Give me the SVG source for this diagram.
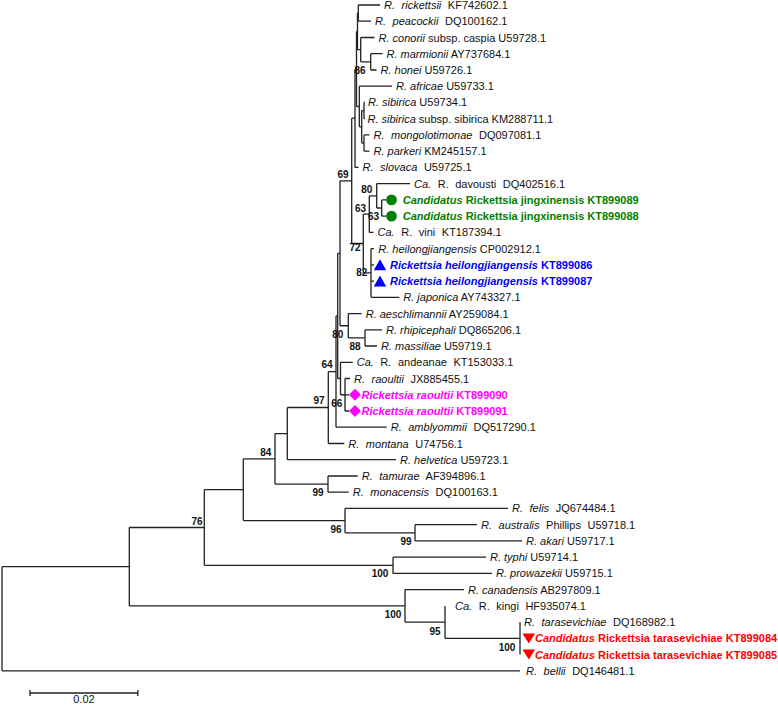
<svg xmlns="http://www.w3.org/2000/svg" width="778" height="705" viewBox="0 0 778 705">
<style>
.br{stroke:#222;stroke-width:1.3;fill:none}
.t{font-family:"Liberation Sans",Arial,sans-serif;font-size:11px;fill:#111}
.w{word-spacing:3.5px}
.i{font-style:italic}
.bd{font-weight:bold}
.bs{font-family:"Liberation Sans",Arial,sans-serif;font-size:10px;font-weight:bold;fill:#111;text-anchor:middle}
.g{fill:#008000}
.bl{fill:#0000ff}
.m{fill:#ff00ff}
.r{fill:#ff0000}
</style>
<rect width="778" height="705" fill="#fff"/>
<g id="connectors" class="br">
<path d="M2 566.7V670.8M2 566.7H129.3M2 670.8H520"/>
<path d="M129.3 527.5V605.9M129.3 527.5H204.3M129.3 605.9H405"/>
<path d="M405 589.6V622.15M405 589.6H464M405 622.15H445"/>
<path d="M445 605.9V638.4M445 638.4H520"/>
<path d="M520 622.1V654.6"/>
<path d="M204.3 489.7V565.3M204.3 489.7H243.3M204.3 565.3H393"/>
<path d="M393 557.2V573.4M393 557.2H486M393 573.4H492"/>
<path d="M243.3 458.85V520.6M243.3 458.85H275M243.3 520.6H345"/>
<path d="M345 508.4V532.8M345 508.4H508M345 532.8H415"/>
<path d="M415 524.7V540.9M415 524.7H477M415 540.9H522"/>
<path d="M275 433.6V484.1M275 433.6H287.3M275 484.1H328"/>
<path d="M328 476V492.2M328 476H357.7M328 492.2H348.7"/>
<path d="M287.3 407.5V459.7M287.3 407.5H328.3M287.3 459.7H396"/>
<path d="M328.3 371.55V443.5M328.3 371.55H336M328.3 443.5H344.3"/>
<path d="M336 315.9V427.2M336 315.9H337.7M336 427.2H386.7"/>
<path d="M337.7 253.3V378.5M337.7 253.3H340M337.7 378.5H340.5"/>
<path d="M340.5 362.3V394.75M340.5 362.3H352.7M340.5 394.75H345"/>
<path d="M345 378.5V411M345 378.5H350M345 394.8H349M345 411H349"/>
<path d="M340 180.85V325.75M340 180.85H351.7M340 325.75H348.3"/>
<path d="M348.3 313.6V337.9M348.3 313.6H361.7M348.3 337.9H365"/>
<path d="M365 329.8V346M365 329.8H382M365 346H377"/>
<path d="M351.7 118.2V243.5M351.7 118.2H355M351.7 243.5H363.3"/>
<path d="M363.3 214.1V272.95M363.3 214.1H369.3M363.3 272.95H371"/>
<path d="M371 248.6V297.3M371 248.6H374M371 264.8H374M371 281.1H374M371 297.3H399.3"/>
<path d="M369.3 195.8V232.4M369.3 195.8H376.7M369.3 232.4H373.5"/>
<path d="M376.7 183.6V208M376.7 183.6H410M376.7 208H381.7"/>
<path d="M381.7 199.9V216.1M381.7 199.9H386M381.7 216.1H386"/>
<path d="M355 68.95V167.4M355 68.95H356.5M355 167.4H358.5"/>
<path d="M356.5 31.4V106.5M356.5 31.4H357.5M356.5 106.5H359.3"/>
<path d="M357.5 13.1V49.7M357.5 13.1H358.3M357.5 49.7H360.7"/>
<path d="M358.3 5V21.2M358.3 5H380M358.3 21.2H371"/>
<path d="M360.7 37.5V61.85M360.7 37.5H374.5M360.7 61.85H370.7"/>
<path d="M370.7 53.7V70M370.7 53.7H382.5M370.7 70H376.5"/>
<path d="M359.3 86.2V126.8M359.3 86.2H392M359.3 126.8H361.7"/>
<path d="M361.7 110.55V143.05M361.7 110.55H364M361.7 143.05H364"/>
<path d="M364 102.4V118.7M364 102.4H365M364 118.7H365"/>
<path d="M364 134.9V151.2M364 134.9H369.5M364 151.2H369.5"/>
<path d="M30 693H137.8M30 690V696M137.8 690V696"/>
</g>
<g id="bootstrap">
<text class="bs" x="360" y="73.6">86</text>
<text class="bs" x="343" y="177.6">69</text>
<text class="bs" x="366.7" y="193.1">80</text>
<text class="bs" x="360.5" y="211.6">63</text>
<text class="bs" x="373.5" y="220.3">63</text>
<text class="bs" x="355" y="251.1">72</text>
<text class="bs" x="361.7" y="275.6">82</text>
<text class="bs" x="337.7" y="337.9">80</text>
<text class="bs" x="355" y="350.3">88</text>
<text class="bs" x="327" y="368.3">64</text>
<text class="bs" x="336.7" y="406.9">66</text>
<text class="bs" x="319" y="404.1">97</text>
<text class="bs" x="265.7" y="455.6">84</text>
<text class="bs" x="318" y="495.9">99</text>
<text class="bs" x="336" y="532.6">96</text>
<text class="bs" x="406" y="545.3">99</text>
<text class="bs" x="380" y="576.9">100</text>
<text class="bs" x="197" y="525.3">76</text>
<text class="bs" x="393" y="618.2">100</text>
<text class="bs" x="435" y="634.6">95</text>
<text class="bs" x="507" y="650.6">100</text>
</g>
<g id="n1"><text class="t w" x="384" y="9"><tspan class="i">R. rickettsii</tspan> KF742602.1</text></g>
<g id="n2"><text class="t w" x="375" y="25.2"><tspan class="i">R. peacockii</tspan> DQ100162.1</text></g>
<g id="n3"><text class="t" x="378.5" y="41.5"><tspan class="i">R. conorii</tspan> subsp. caspia U59728.1</text></g>
<g id="n4"><text class="t" x="386.5" y="57.7"><tspan class="i">R. marmionii</tspan> AY737684.1</text></g>
<g id="n5"><text class="t" x="380.5" y="74"><tspan class="i">R. honei</tspan> U59726.1</text></g>
<g id="n6"><text class="t" x="396" y="90.2"><tspan class="i">R. africae</tspan> U59733.1</text></g>
<g id="n7"><text class="t" x="368" y="106.4"><tspan class="i">R. sibirica</tspan> U59734.1</text></g>
<g id="n8"><text class="t" x="367.5" y="122.7"><tspan class="i">R. sibirica</tspan> subsp. sibirica KM288711.1</text></g>
<g id="n9"><text class="t w" x="373.5" y="138.9"><tspan class="i">R. mongolotimonae</tspan> DQ097081.1</text></g>
<g id="n10"><text class="t" x="373.5" y="155.2"><tspan class="i">R. parkeri</tspan> KM245157.1</text></g>
<g id="n11"><text class="t w" x="362.5" y="171.4"><tspan class="i">R. slovaca</tspan> U59725.1</text></g>
<g id="n12"><text class="t w" x="414" y="187.6"><tspan class="i">Ca.</tspan> R. davousti DQ402516.1</text></g>
<g id="n13"><circle class="g" cx="391.5" cy="199.9" r="5.4"/><text class="t g bd" x="402.7" y="203.9"><tspan class="i">Candidatus</tspan> Rickettsia jingxinensis KT899089</text></g>
<g id="n14"><circle class="g" cx="391.5" cy="216.1" r="5.4"/><text class="t g bd" x="402.7" y="220.1"><tspan class="i">Candidatus</tspan> Rickettsia jingxinensis KT899088</text></g>
<g id="n15"><text class="t w" x="377.5" y="236.4"><tspan class="i">Ca.</tspan> R. vini KT187394.1</text></g>
<g id="n16"><text class="t" x="378.3" y="252.6"><tspan class="i">R. heilongjiangensis</tspan> CP002912.1</text></g>
<g id="n17"><path class="bl" d="M380 259.3L386.2 270.3H373.8Z"/><text class="t bl bd" x="390" y="268.8"><tspan class="i">Rickettsia heilongjiangensis</tspan> KT899086</text></g>
<g id="n18"><path class="bl" d="M380 275.6L386.2 286.6H373.8Z"/><text class="t bl bd" x="390" y="285.1"><tspan class="i">Rickettsia heilongjiangensis</tspan> KT899087</text></g>
<g id="n19"><text class="t" x="403.3" y="301.3"><tspan class="i">R. japonica</tspan> AY743327.1</text></g>
<g id="n20"><text class="t" x="365.7" y="317.6"><tspan class="i">R. aeschlimannii</tspan> AY259084.1</text></g>
<g id="n21"><text class="t" x="386" y="333.8"><tspan class="i">R. rhipicephali</tspan> DQ865206.1</text></g>
<g id="n22"><text class="t" x="381" y="350"><tspan class="i">R. massiliae</tspan> U59719.1</text></g>
<g id="n23"><text class="t w" x="356.7" y="366.3"><tspan class="i">Ca.</tspan> R. andeanae KT153033.1</text></g>
<g id="n24"><text class="t w" x="354" y="382.5"><tspan class="i">R. raoultii</tspan> JX885455.1</text></g>
<g id="n25"><path class="m" d="M355 388.8L361 394.8L355 400.8L349 394.8Z"/><text class="t m bd" x="361.5" y="398.8"><tspan class="i">Rickettsia raoultii</tspan> KT899090</text></g>
<g id="n26"><path class="m" d="M355 405L361 411L355 417L349 411Z"/><text class="t m bd" x="361.5" y="415"><tspan class="i">Rickettsia raoultii</tspan> KT899091</text></g>
<g id="n27"><text class="t w" x="390.7" y="431.2"><tspan class="i">R. amblyommii</tspan> DQ517290.1</text></g>
<g id="n28"><text class="t w" x="348.3" y="447.5"><tspan class="i">R. montana</tspan> U74756.1</text></g>
<g id="n29"><text class="t" x="400" y="463.7"><tspan class="i">R. helvetica</tspan> U59723.1</text></g>
<g id="n30"><text class="t w" x="361.7" y="480"><tspan class="i">R. tamurae</tspan> AF394896.1</text></g>
<g id="n31"><text class="t w" x="352.7" y="496.2"><tspan class="i">R. monacensis</tspan> DQ100163.1</text></g>
<g id="n32"><text class="t w" x="512" y="512.4"><tspan class="i">R. felis</tspan> JQ674484.1</text></g>
<g id="n33"><text class="t w" x="481" y="528.7"><tspan class="i">R. australis</tspan> Phillips U59718.1</text></g>
<g id="n34"><text class="t" x="526" y="544.9"><tspan class="i">R. akari</tspan> U59717.1</text></g>
<g id="n35"><text class="t" x="490" y="561.2"><tspan class="i">R. typhi</tspan> U59714.1</text></g>
<g id="n36"><text class="t" x="496" y="577.4"><tspan class="i">R. prowazekii</tspan> U59715.1</text></g>
<g id="n37"><text class="t" x="468" y="593.6"><tspan class="i">R. canadensis</tspan> AB297809.1</text></g>
<g id="n38"><text class="t w" x="455" y="609.9"><tspan class="i">Ca.</tspan> R. kingi HF935074.1</text></g>
<g id="n39"><text class="t w" x="524" y="626.1"><tspan class="i">R. tarasevichiae</tspan> DQ168982.1</text></g>
<g id="n40"><path class="r" d="M522.5 633.4H535.1L528.8 643.4Z"/><text class="t r bd" x="535" y="642.4"><tspan class="i">Candidatus</tspan> Rickettsia tarasevichiae KT899084</text></g>
<g id="n41"><path class="r" d="M522.5 649.6H535.1L528.8 659.6Z"/><text class="t r bd" x="535" y="658.6"><tspan class="i">Candidatus</tspan> Rickettsia tarasevichiae KT899085</text></g>
<g id="n42"><text class="t w" x="526" y="674.8"><tspan class="i">R. bellii</tspan> DQ146481.1</text></g>
<g id="scale"><text class="t" x="84" y="703" font-size="7" text-anchor="middle">0.02</text></g>
</svg>
